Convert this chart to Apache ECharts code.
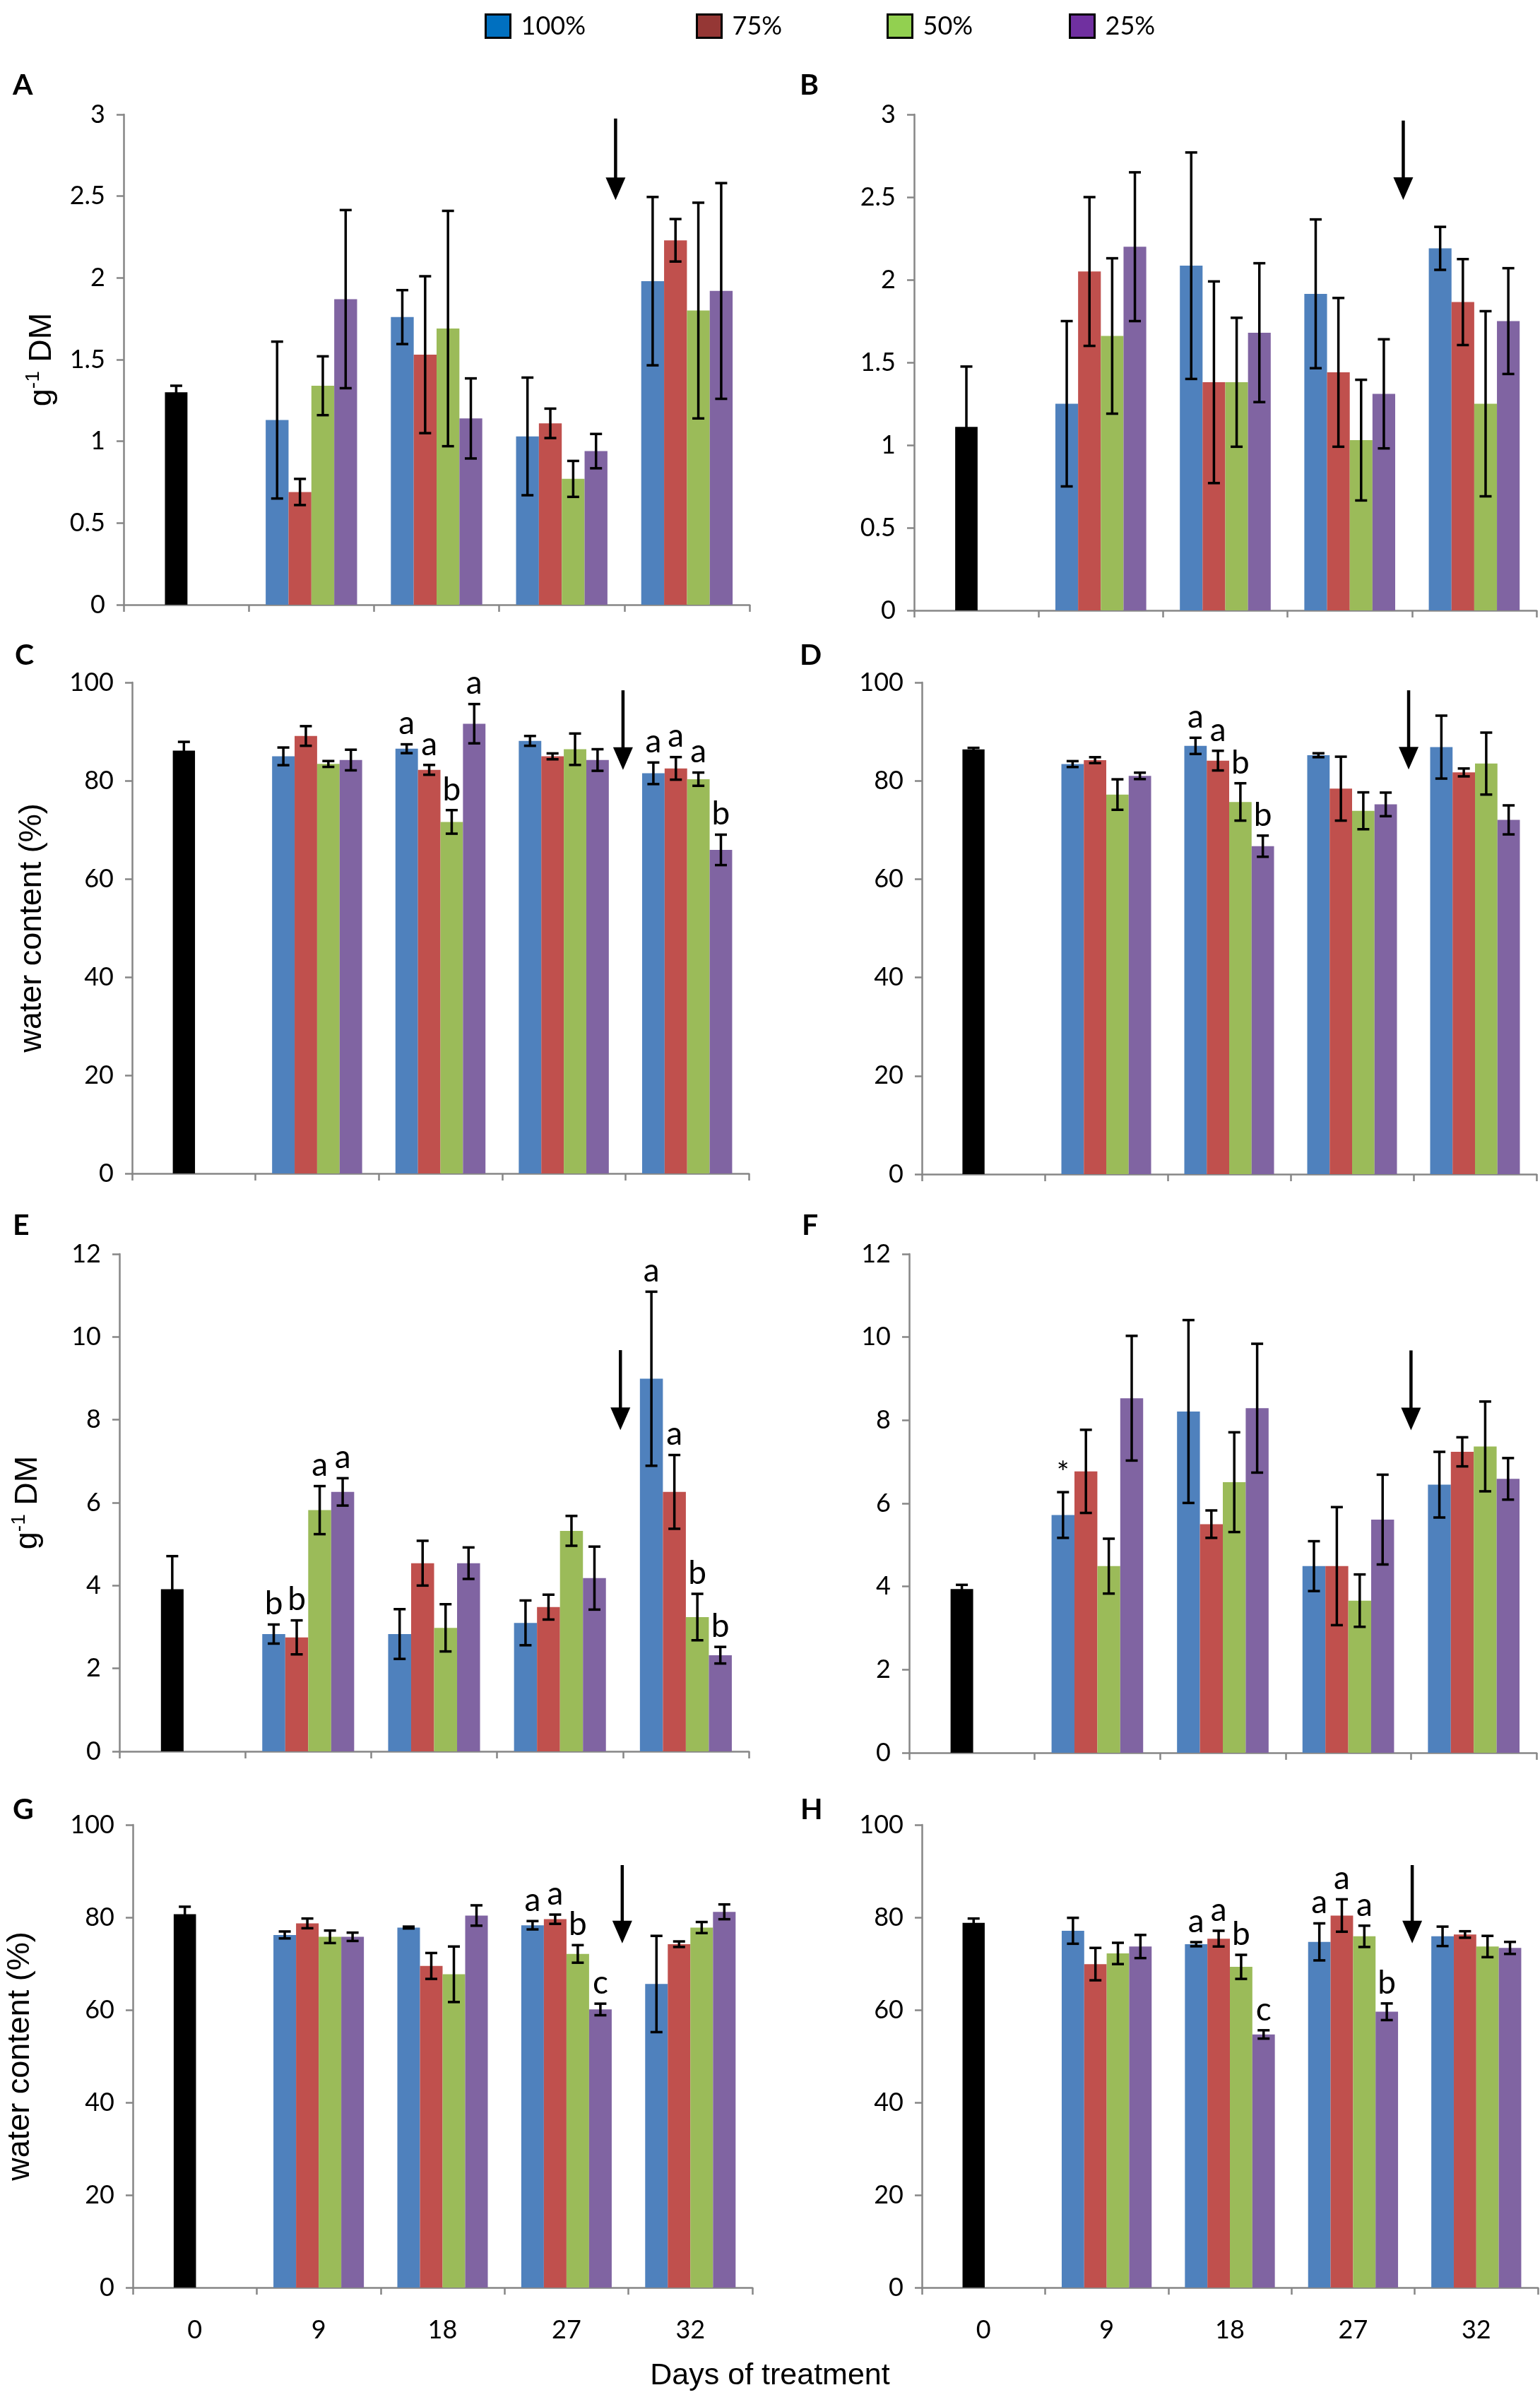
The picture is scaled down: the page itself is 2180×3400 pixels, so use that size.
<!DOCTYPE html>
<html>
<head>
<meta charset="utf-8">
<script src="https://cdn.jsdelivr.net/npm/echarts@6/dist/echarts.min.js"></script>
<style>
html, body { margin: 0; padding: 0; background: #fff; }
#chart { width: 2180px; height: 3400px; }
</style>
</head>
<body>
<div id="chart"></div>
<script>
// ---- data ----
var days = ['0', '9', '18', '27', '32'];
var treatments = ['100%', '75%', '50%', '25%'];

// control (day 0): [mean, sd]
var ctrlA = [1.30, 0.04];
var ctrlB = [1.11, 0.365];
var ctrlC = [86.1, 1.8];
var ctrlD = [86.4, 0.3];
var ctrlE = [3.91, 0.8];
var ctrlF = [3.94, 0.1];
var ctrlG = [80.7, 1.6];
var ctrlH = [78.8, 0.95];

// treatments, one row per series (100%, 75%, 50%, 25%), days 9, 18, 27, 32
var meanA = [[1.13, 1.76, 1.03, 1.98], [0.69, 1.53, 1.11, 2.23], [1.34, 1.69, 0.77, 1.80], [1.87, 1.14, 0.94, 1.92]];
var errA = [[0.48, 0.165, 0.36, 0.515], [0.08, 0.48, 0.09, 0.13], [0.18, 0.72, 0.11, 0.66], [0.545, 0.245, 0.105, 0.66]];

var meanB = [[1.25, 2.085, 1.915, 2.19], [2.05, 1.38, 1.44, 1.865], [1.66, 1.38, 1.03, 1.25], [2.20, 1.68, 1.31, 1.75]];
var errB = [[0.5, 0.685, 0.45, 0.13], [0.45, 0.61, 0.45, 0.26], [0.47, 0.39, 0.365, 0.56], [0.45, 0.42, 0.33, 0.32]];

var meanC = [[84.95, 86.5, 88.1, 81.5], [89.1, 82.2, 84.95, 82.5], [83.4, 71.6, 86.4, 80.3], [84.2, 91.6, 84.2, 65.9]];
var errC = [[1.8, 0.9, 1.0, 2.2], [2.0, 1.0, 0.6, 2.3], [0.6, 2.4, 3.2, 1.35], [2.1, 4.0, 2.2, 3.1]];
var sigC = [['', 'a', '', 'a'], ['', 'a', '', 'a'], ['', 'b', '', 'a'], ['', 'a', '', 'b']];

var meanD = [[83.4, 87.1, 85.2, 86.85], [84.2, 84.1, 78.4, 81.7], [77.2, 75.7, 73.9, 83.5], [81.0, 66.7, 75.2, 72.05]];
var errD = [[0.6, 1.65, 0.4, 6.4], [0.6, 2.0, 6.5, 0.8], [3.1, 3.8, 3.75, 6.3], [0.65, 2.15, 2.4, 2.95]];
var sigD = [['', 'a', '', ''], ['', 'a', '', ''], ['', 'b', '', ''], ['', 'b', '', '']];

var meanE = [[2.83, 2.83, 3.10, 8.99], [2.75, 4.54, 3.48, 6.26], [5.82, 2.98, 5.32, 3.24], [6.26, 4.54, 4.18, 2.32]];
var errE = [[0.23, 0.6, 0.54, 2.1], [0.41, 0.54, 0.3, 0.89], [0.58, 0.57, 0.36, 0.56], [0.33, 0.38, 0.76, 0.2]];
var sigE = [['b', '', '', 'a'], ['b', '', '', 'a'], ['a', '', '', 'b'], ['a', '', '', 'b']];

var meanF = [[5.72, 8.21, 4.49, 6.45], [6.77, 5.50, 4.49, 7.24], [4.49, 6.51, 3.66, 7.37], [8.53, 8.29, 5.61, 6.59]];
var errF = [[0.55, 2.2, 0.6, 0.79], [1.0, 0.33, 1.42, 0.35], [0.66, 1.2, 0.63, 1.08], [1.5, 1.55, 1.08, 0.5]];
var sigF = [['*', '', '', ''], ['', '', '', ''], ['', '', '', ''], ['', '', '', '']];

var meanG = [[76.2, 77.8, 78.3, 65.6], [78.7, 69.5, 79.6, 74.2], [75.8, 67.7, 72.1, 77.8], [75.8, 80.4, 60.1, 81.2]];
var errG = [[0.75, 0.2, 0.9, 10.4], [1.05, 2.8, 1.0, 0.6], [1.35, 6.0, 1.9, 1.2], [0.9, 2.2, 1.25, 1.6]];
var sigG = [['', '', 'a', ''], ['', '', 'a', ''], ['', '', 'b', ''], ['', '', 'c', '']];

var meanH = [[77.1, 74.2, 74.7, 75.9], [69.9, 75.4, 80.4, 76.3], [72.2, 69.3, 75.9, 73.7], [73.7, 54.7, 59.6, 73.4]];
var errH = [[2.8, 0.45, 4.0, 2.1], [3.5, 1.7, 3.5, 0.7], [2.3, 2.6, 2.3, 2.3], [2.5, 0.9, 1.8, 1.3]];
var sigH = [['', 'a', 'a', ''], ['', 'a', 'a', ''], ['', 'b', 'a', ''], ['', 'c', 'b', '']];

// y scales
var yMaxDM = 3, yStepDM = 0.5;
var yMaxWC = 100, yStepWC = 20;
var yMaxDM2 = 12, yStepDM2 = 2;

// ---- layout / styles ----
var barColors = ['#4F81BD', '#C0504D', '#9BBB59', '#8064A2'];
var legendColors = ['#0070C0', '#953735', '#92D050', '#7030A0'];
var legendLeft = [686, 985, 1255, 1513];
var axisGray = '#868686';
var tickFont = 'Lato, "Noto Sans", sans-serif';
var titleFont = '"Liberation Sans", Arial, sans-serif';
var catGap = 0.27;      // barCategoryGap
var ctrlW = 0.18, ctrlPad = 0.16;

var panels = [
  { id: 'A', ctrl: ctrlA, mean: meanA, err: errA, sig: null, max: yMaxDM, step: yStepDM, name: 'dm', nameGap: 88,
    box: [175, 162, 886, 694], tag: [18, 124], arrow: [-0.07, 2.975, 2.476] },
  { id: 'B', ctrl: ctrlB, mean: meanB, err: errB, sig: null, max: yMaxDM, step: yStepDM, name: null,
    box: [1294, 162, 881, 702], tag: [1132, 124], arrow: [-0.07, 2.963, 2.483] },
  { id: 'C', ctrl: ctrlC, mean: meanC, err: errC, sig: sigC, max: yMaxWC, step: yStepWC, name: 'wc', nameGap: 114,
    box: [187, 966, 873, 695], tag: [21, 931], arrow: [-0.02, 98.4, 82.2] },
  { id: 'D', ctrl: ctrlD, mean: meanD, err: errD, sig: sigD, max: yMaxWC, step: yStepWC, name: null,
    box: [1305, 966, 870, 696], tag: [1132, 931], arrow: [-0.04, 98.4, 82.3] },
  { id: 'E', ctrl: ctrlE, mean: meanE, err: errE, sig: sigE, max: yMaxDM2, step: yStepDM2, name: 'dm', nameGap: 102,
    box: [169, 1775, 891, 704], tag: [18, 1738], arrow: [-0.02, 9.68, 7.75] },
  { id: 'F', ctrl: ctrlF, mean: meanF, err: errF, sig: sigF, max: yMaxDM2, step: yStepDM2, name: null,
    box: [1287, 1775, 888, 706], tag: [1135, 1738], arrow: [0, 9.68, 7.76] },
  { id: 'G', ctrl: ctrlG, mean: meanG, err: errG, sig: sigG, max: yMaxWC, step: yStepWC, name: 'wc', nameGap: 132,
    box: [188, 2583, 877, 655], tag: [18, 2565], arrow: [-0.05, 91.3, 74.4], xLabels: true },
  { id: 'H', ctrl: ctrlH, mean: meanH, err: errH, sig: sigH, max: yMaxWC, step: yStepWC, name: null,
    box: [1305, 2583, 872, 655], tag: [1133, 2565], arrow: [-0.02, 91.3, 74.4], xLabels: true }
];

function yName(kind) {
  if (kind === 'dm') return '{n|g}{s|-1}{n| DM}';
  if (kind === 'wc') return '{n|water content (%)}';
  return '';
}

function errRender(labels) {
  return function (params, api) {
    var cat = api.value(0), m = api.value(1), e = api.value(2), slot = api.value(3);
    var c = api.coord([cat, m]);
    var catW = api.size([1, 0])[0];
    var barW = catW * (1 - catGap) / 4;
    var x = slot < 0 ? c[0] - catW * ctrlPad / 2 : c[0] + (slot - 1.5) * barW;
    var hi = api.coord([cat, m + e])[1];
    var lo = api.coord([cat, m - e])[1];
    var st = { stroke: '#000', lineWidth: 3.5 };
    var cap = 8.5;
    var kids = [
      { type: 'line', shape: { x1: x, y1: hi, x2: x, y2: lo }, style: st },
      { type: 'line', shape: { x1: x - cap, y1: hi, x2: x + cap, y2: hi }, style: st },
      { type: 'line', shape: { x1: x - cap, y1: lo, x2: x + cap, y2: lo }, style: st }
    ];
    var t = labels[params.dataIndex];
    if (t) {
      kids.push({ type: 'text', style: { text: t, x: x, y: hi - 6, align: 'center', verticalAlign: 'bottom',
        fontSize: t === '*' ? 42 : 46, fontFamily: tickFont, fill: '#000' } });
    }
    return { type: 'group', children: kids };
  };
}

function arrowRender(off) {
  return function (params, api) {
    var catW = api.size([1, 0])[0];
    var top = api.coord([api.value(0), api.value(1)]);
    var bot = api.coord([api.value(0), api.value(2)]);
    var x = top[0] + catW * (0.5 + off);
    var hh = 32, hw = 14;
    return { type: 'group', children: [
      { type: 'line', shape: { x1: x, y1: top[1], x2: x, y2: bot[1] - hh + 2 }, style: { stroke: '#000', lineWidth: 4.5 } },
      { type: 'polygon', shape: { points: [[x - hw, bot[1] - hh], [x + hw, bot[1] - hh], [x, bot[1]]] }, style: { fill: '#000' } }
    ] };
  };
}

var grid = [], xAxis = [], yAxis = [], series = [], graphic = [];

panels.forEach(function (p, i) {
  grid.push({ left: p.box[0], top: p.box[1], width: p.box[2], height: p.box[3], containLabel: false });
  var axisLine = { show: true, lineStyle: { color: axisGray, width: 2.5 } };
  var axisTick = { show: true, length: 10, lineStyle: { color: axisGray, width: 2.5 } };
  xAxis.push({ type: 'category', gridIndex: i, data: days, boundaryGap: true, position: 'bottom',
    axisLine: axisLine, axisTick: axisTick,
    axisLabel: { show: !!p.xLabels, fontSize: 36, fontFamily: tickFont, color: '#000', margin: 42 } });
  xAxis.push({ type: 'category', gridIndex: i, data: days, boundaryGap: true, show: false });
  yAxis.push({ type: 'value', gridIndex: i, min: 0, max: p.max, interval: p.step,
    axisLine: axisLine, axisTick: axisTick, splitLine: { show: false },
    axisLabel: { fontSize: 36, fontFamily: tickFont, color: '#000', margin: 26 },
    name: yName(p.name), nameLocation: 'middle', nameGap: p.nameGap || 0, nameRotate: 90,
    nameTextStyle: { rich: {
      n: { fontSize: 45, fontFamily: titleFont, color: '#000', lineHeight: 54 },
      s: { fontSize: 28, fontFamily: titleFont, color: '#000', verticalAlign: 'top', lineHeight: 54 }
    } } });

  var xMain = i * 2, xCtrl = i * 2 + 1;
  treatments.forEach(function (name, s) {
    series.push({ type: 'bar', name: name, xAxisIndex: xMain, yAxisIndex: i,
      data: [null].concat(p.mean[s]), barGap: '0%', barCategoryGap: (catGap * 100) + '%',
      itemStyle: { color: barColors[s] }, silent: true, animation: false });
  });
  series.push({ type: 'bar', name: 'control', xAxisIndex: xCtrl, yAxisIndex: i,
    data: [p.ctrl[0], null, null, null, null], barWidth: (ctrlW * 100) + '%', barGap: '0%',
    itemStyle: { color: '#000' }, silent: true, animation: false });
  series.push({ type: 'bar', name: 'pad', xAxisIndex: xCtrl, yAxisIndex: i,
    data: [null, null, null, null, null], barWidth: (ctrlPad * 100) + '%', barGap: '0%',
    silent: true, animation: false });

  var errData = [[0, p.ctrl[0], p.ctrl[1], -1]];
  var labels = [''];
  for (var s = 0; s < 4; s++) {
    for (var d = 0; d < 4; d++) {
      errData.push([d + 1, p.mean[s][d], p.err[s][d], s]);
      labels.push(p.sig ? p.sig[s][d] : '');
    }
  }
  series.push({ type: 'custom', name: 'err', xAxisIndex: xMain, yAxisIndex: i, z: 5,
    data: errData, renderItem: errRender(labels), silent: true, animation: false });
  series.push({ type: 'custom', name: 'arrow', xAxisIndex: xMain, yAxisIndex: i, z: 5,
    data: [[3, p.arrow[1], p.arrow[2]]], renderItem: arrowRender(p.arrow[0]), silent: true, animation: false });

  graphic.push({ type: 'text', left: p.tag[0], top: p.tag[1] - 24,
    style: { text: p.id, fontSize: 41, fontWeight: 'bold', fontFamily: tickFont, fill: '#000' } });
});

graphic.push({ type: 'text', left: 'center', top: 3342,
  style: { text: 'Days of treatment', fontSize: 43, fontFamily: titleFont, fill: '#000' } });

var legend = treatments.map(function (name, s) {
  return { left: legendLeft[s], top: 19, padding: 0, itemWidth: 35, itemHeight: 33, icon: 'rect',
    selectedMode: false,
    data: [{ name: name, itemStyle: { color: legendColors[s], borderColor: '#000', borderWidth: 3 } }],
    textStyle: { fontSize: 36, fontFamily: tickFont, color: '#000', padding: [0, 0, 0, 10] } };
});

var chart = echarts.init(document.getElementById('chart'), null, { renderer: 'canvas' });
chart.setOption({
  backgroundColor: '#fff',
  animation: false,
  legend: legend,
  grid: grid,
  xAxis: xAxis,
  yAxis: yAxis,
  series: series,
  graphic: graphic
});
</script>
</body>
</html>
